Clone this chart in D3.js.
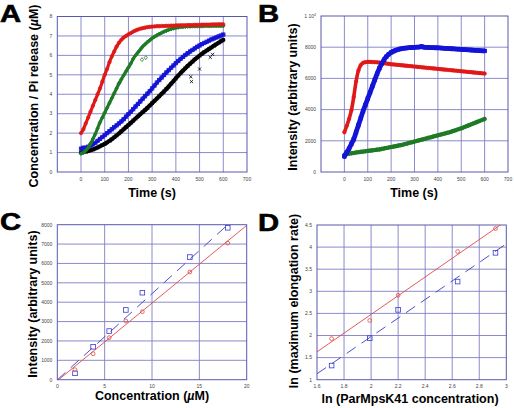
<!DOCTYPE html>
<html><head><meta charset="utf-8">
<script src="https://cdn.jsdelivr.net/npm/d3@7"></script>
<style>body{margin:0;background:#fff}svg{display:block}</style>
</head><body>
<svg id="chart" width="514" height="408"></svg>
<script>
// ---------- DATA ----------
const timeS = [0,10,20,30,40,50,60,70,80,90,100,110,120,130,140,150,160,170,180,190,200,210,220,230,240,250,260,270,280,290,300,310,320,330,340,350,360,370,380,390,400,410,420,430,440,450,460,470,480,490,500,510,520,530,540,550,560,570,580,590,600];

// Panel A: concentration / Pi release (uM)
const aRed   = [2.0,2.2,2.5,2.8,3.1,3.4,3.7,4.0,4.3,4.65,5.0,5.3,5.65,5.95,6.2,6.45,6.65,6.8,6.92,7.0,7.08,7.15,7.22,7.28,7.33,7.37,7.4,7.43,7.45,7.47,7.48,7.49,7.5,7.5,7.51,7.51,7.52,7.52,7.53,7.53,7.54,7.54,7.55,7.55,7.55,7.56,7.56,7.56,7.57,7.57,7.57,7.58,7.58,7.58,7.58,7.59,7.59,7.59,7.6,7.6,7.6];
const aGreen = [0.95,1.0,1.1,1.25,1.45,1.7,1.95,2.25,2.55,2.8,3.05,3.3,3.55,3.8,4.05,4.3,4.55,4.77,4.98,5.18,5.38,5.58,5.82,6.0,6.15,6.3,6.45,6.57,6.68,6.78,6.88,6.96,7.03,7.1,7.16,7.22,7.27,7.32,7.36,7.39,7.42,7.44,7.46,7.47,7.48,7.49,7.49,7.5,7.5,7.5,7.5,7.5,7.51,7.51,7.51,7.51,7.52,7.52,7.52,7.52,7.52];
const aBlue  = [1.2,1.25,1.25,1.3,1.35,1.42,1.5,1.6,1.7,1.8,1.9,2.0,2.1,2.2,2.3,2.4,2.5,2.6,2.72,2.85,2.98,3.1,3.23,3.37,3.5,3.63,3.77,3.9,4.03,4.16,4.3,4.45,4.6,4.73,4.86,4.99,5.12,5.24,5.36,5.48,5.6,5.71,5.82,5.92,6.02,6.11,6.2,6.28,6.36,6.44,6.51,6.58,6.64,6.7,6.76,6.82,6.87,6.92,6.97,7.02,7.07];
const aBlack = [1.0,1.02,1.05,1.08,1.12,1.16,1.21,1.26,1.32,1.38,1.45,1.52,1.6,1.69,1.78,1.88,1.98,2.09,2.2,2.31,2.42,2.53,2.64,2.75,2.86,2.97,3.08,3.19,3.3,3.42,3.54,3.66,3.78,3.9,4.02,4.14,4.27,4.4,4.54,4.68,4.82,4.96,5.09,5.22,5.34,5.46,5.57,5.68,5.79,5.89,5.99,6.08,6.17,6.25,6.33,6.41,6.49,6.57,6.65,6.73,6.8];
const aGreenOutT = [257,273,163];
const aGreenOutV = [5.78,5.88,4.6];
const aBlackOutT = [463,466,545,555,500];
const aBlackOutV = [4.9,4.65,5.9,6.05,5.3];

// Panel B: intensity (arbitrary units)
const bRed   = [2550,2950,3400,3950,4800,5800,6500,6850,7000,7040,7060,7060,7050,7040,7030,7010,6990,6970,6950,6930,6910,6895,6880,6865,6850,6835,6820,6805,6790,6775,6760,6745,6730,6715,6700,6685,6670,6655,6640,6625,6610,6595,6580,6565,6550,6535,6520,6505,6490,6475,6460,6445,6430,6415,6400,6385,6370,6355,6340,6325,6310];
const bBlue  = [1000,1250,1500,1800,2100,2550,3000,3450,3900,4300,4700,5100,5500,5900,6300,6650,6950,7200,7400,7550,7660,7740,7800,7850,7890,7920,7940,7960,7970,7980,7990,8000,8010,8050,8000,7990,7980,7975,7970,7965,7960,7950,7940,7930,7920,7910,7900,7890,7880,7870,7860,7850,7840,7830,7820,7810,7800,7790,7780,7770,7760];
const bGreen = [1100,1150,1180,1200,1220,1250,1270,1290,1310,1330,1350,1370,1390,1410,1430,1450,1480,1510,1540,1570,1600,1630,1660,1690,1720,1750,1790,1830,1870,1910,1950,1990,2030,2070,2110,2150,2190,2230,2270,2310,2350,2390,2430,2470,2510,2550,2600,2650,2700,2750,2800,2860,2920,2980,3040,3100,3160,3220,3280,3340,3400];

// Panel C: intensity vs concentration
const cConc  = [1.87,3.78,5.48,7.24,8.98,14.0,18.0];
const cBlue  = [330,1700,2510,3600,4490,6330,7840];
const cRed   = [516,1340,2170,3030,3510,5560,7050];
const cBlueFit = [445,-10];   // slope, intercept
const cRedFit  = [401,-56];

// Panel D: ln rate vs ln concentration
const dLnConc = [1.708,1.99,2.20,2.64,2.92];
const dRed    = [1.93,2.34,2.91,3.90,4.42];
const dBlue   = [1.32,1.94,2.58,3.22,3.87];
const dRedFit  = [2.117,-1.757];
const dBlueFit = [2.10,-2.226];

// Tick labels
const aXTicks = [0,100,200,300,400,500,600,700];
const aYTicks = [0,1,2,3,4,5,6,7,8];
const bXTicks = [0,100,200,300,400,500,600,700];
const bYTicks = [0,2000,4000,6000,8000];
const cXTicks = [0,5,10,15,20];
const cYTicks = [0,1000,2000,3000,4000,5000,6000,7000,8000];
const dXTicks = [1.6,1.8,2,2.2,2.4,2.6,2.8,3];
const dYTicks = [1,1.5,2,2.5,3,3.5,4,4.5];

// ---------- DRAWING ----------
const svg = d3.select("#chart");
const RED = "#e01818", GREEN = "#1e7a24", BLUE = "#1414d8", BLACK = "#000";
const GRID = "#7e7ec6", FRAME = "#5858ae";
const FONT = "'Liberation Sans', Arial, Helvetica, sans-serif";
let clipId = 0;

function panel(o) {
  const x = d3.scaleLinear().domain(o.xd).range([o.l, o.r]);
  const y = d3.scaleLinear().domain(o.yd).range([o.b, o.t]);
  const g = svg.append("g");
  g.selectAll(".vg").data(o.xg).join("line")
    .attr("x1", d => x(d)).attr("x2", d => x(d)).attr("y1", o.t).attr("y2", o.b)
    .attr("stroke", GRID).attr("stroke-width", 0.9);
  g.selectAll(".hg").data(o.yg).join("line")
    .attr("y1", d => y(d)).attr("y2", d => y(d)).attr("x1", o.l).attr("x2", o.r)
    .attr("stroke", GRID).attr("stroke-width", 0.9);
  g.append("rect").attr("x", o.l).attr("y", o.t).attr("width", o.r - o.l).attr("height", o.b - o.t)
    .attr("fill", "none").attr("stroke", FRAME).attr("stroke-width", 1);
  g.selectAll(".xt").data(o.xt).join("text")
    .attr("x", d => x(d)).attr("y", o.b + 8.5).attr("text-anchor", "middle")
    .attr("font-family", FONT).attr("font-size", 5).attr("fill", "#444")
    .text(o.xf || (d => d));
  g.selectAll(".yt").data(o.yt).join("text")
    .attr("x", o.l - 5).attr("y", d => y(d) + 1.8).attr("text-anchor", "end")
    .attr("font-family", FONT).attr("font-size", 5).attr("fill", "#444")
    .text(o.yf || (d => d));
  const id = "clip" + (clipId++);
  svg.append("clipPath").attr("id", id).append("rect")
    .attr("x", o.l).attr("y", o.t).attr("width", o.r - o.l).attr("height", o.b - o.t);
  const plot = svg.append("g").attr("clip-path", `url(#${id})`);
  return {x, y, g, plot};
}

function band(p, xs, ys, color, width, shape) {
  const pts = xs.map((t, i) => [t, ys[i]]);
  p.plot.append("path").datum(pts)
    .attr("d", d3.line().x(d => p.x(d[0])).y(d => p.y(d[1])).curve(d3.curveMonotoneX))
    .attr("fill", "none").attr("stroke", color).attr("stroke-width", width)
    .attr("stroke-linejoin", "round").attr("stroke-linecap", "round");
  markers(p, xs, ys, color, shape, 1.7);
}

function markers(p, xs, ys, color, shape, r) {
  const pts = xs.map((t, i) => [t, ys[i]]);
  const sel = p.plot.append("g");
  pts.forEach(d => {
    const cx = p.x(d[0]), cy = p.y(d[1]);
    if (shape === "circle") {
      sel.append("circle").attr("cx", cx).attr("cy", cy).attr("r", r)
        .attr("fill", "none").attr("stroke", color).attr("stroke-width", 0.8);
    } else if (shape === "square") {
      sel.append("rect").attr("x", cx - r).attr("y", cy - r).attr("width", 2 * r).attr("height", 2 * r)
        .attr("fill", "none").attr("stroke", color).attr("stroke-width", 0.8);
    } else if (shape === "diamond") {
      sel.append("path").attr("d", `M${cx},${cy - r * 1.2}L${cx + r},${cy}L${cx},${cy + r * 1.2}L${cx - r},${cy}Z`)
        .attr("fill", "none").attr("stroke", color).attr("stroke-width", 0.8);
    } else if (shape === "cross") {
      sel.append("path").attr("d", `M${cx - r},${cy - r}L${cx + r},${cy + r}M${cx - r},${cy + r}L${cx + r},${cy - r}`)
        .attr("fill", "none").attr("stroke", color).attr("stroke-width", 0.8);
    }
  });
}

function fitLine(p, fit, xd, color, dash) {
  const pts = xd.map(v => [v, fit[0] * v + fit[1]]);
  p.plot.append("path").datum(pts)
    .attr("d", d3.line().x(d => p.x(d[0])).y(d => p.y(d[1])))
    .attr("fill", "none").attr("stroke", color).attr("stroke-width", 0.9)
    .attr("stroke-dasharray", dash || null);
}

function label(txt, x, y, size, rot, italicMu) {
  const t = svg.append("text")
    .attr("font-family", FONT).attr("font-weight", "bold").attr("font-size", size)
    .attr("text-anchor", "middle").attr("fill", "#000")
    .attr("transform", `translate(${x},${y})` + (rot ? " rotate(-90)" : ""));
  if (italicMu) {
    const parts = txt.split("µ");
    t.append("tspan").text(parts[0]);
    t.append("tspan").attr("font-style", "italic").text("µ");
    t.append("tspan").text(parts[1]);
  } else t.text(txt);
}

function letter(txt, x, y) {
  svg.append("text").attr("transform", `translate(${x},${y}) scale(1.22,1)`)
    .attr("font-family", FONT).attr("font-weight", "bold").attr("font-size", 24)
    .attr("stroke", "#000").attr("stroke-width", 0.6).text(txt);
}

// ----- Panel A -----
const A = panel({l: 57.3, r: 247, t: 16.5, b: 172, xd: [-100, 700], yd: [0, 8],
  xg: [0,100,200,300,400,500,600], yg: [1,2,3,4,5,6,7], xt: aXTicks, yt: aYTicks});
band(A, timeS, aBlack, BLACK, 4.2, "cross");
band(A, timeS, aBlue, BLUE, 3.6, "square");
band(A, timeS, aGreen, GREEN, 3.2, "diamond");
band(A, timeS, aRed, RED, 3.2, "circle");
markers(A, aGreenOutT, aGreenOutV, GREEN, "diamond", 1.6);
markers(A, aBlackOutT, aBlackOutV, BLACK, "cross", 1.6);
letter("A", 0, 22);
label("Concentration / Pi release (µM)", 37.5, 96, 12.5, true, true);
label("Time (s)", 152, 197, 12.5, false);

// ----- Panel B -----
const B = panel({l: 321, r: 508, t: 16, b: 172, xd: [-100, 700], yd: [0, 10000],
  xg: [0,100,200,300,400,500,600], yg: [2000,4000,6000,8000], xt: bXTicks, yt: bYTicks});
B.g.append("text").attr("x", B.x(-100) - 5).attr("y", B.y(10000) + 1.8).attr("text-anchor", "end")
  .attr("font-family", FONT).attr("font-size", 5).attr("fill", "#444")
  .text("1 10").append("tspan").attr("dy", -2).attr("font-size", 3.5).text("4");
band(B, timeS, bGreen, GREEN, 4.2, "diamond");
band(B, timeS, bRed, RED, 3.6, "circle");
band(B, timeS, bBlue, BLUE, 4.8, "square");
letter("B", 258, 22);
label("Intensity (arbitrary units)", 297, 97, 12.5, true);
label("Time (s)", 414, 197, 12.5, false);

// ----- Panel C -----
const C = panel({l: 57.3, r: 246.7, t: 224.7, b: 379.7, xd: [0, 20], yd: [0, 8000],
  xg: [5,10,15], yg: [1000,2000,3000,4000,5000,6000,7000], xt: cXTicks, yt: cYTicks});
fitLine(C, cRedFit, [0, 20], "#e04848");
fitLine(C, cBlueFit, [0, 20], "#3a3ac8", "11,7");
markers(C, cConc, cBlue, "#3a3ad0", "square", 2.3);
markers(C, cConc, cRed, "#e04848", "circle", 1.9);
letter("C", 0, 230);
label("Intensity (arbitrary units)", 36.5, 304, 12.5, true);
label("Concentration (µM)", 152, 400, 12.5, false, true);

// ----- Panel D -----
const D = panel({l: 317, r: 506.3, t: 225, b: 379.7, xd: [1.6, 3], yd: [1, 4.5],
  xg: [1.8,2,2.2,2.4,2.6,2.8], yg: [1.5,2,2.5,3,3.5,4], xt: dXTicks, yt: dYTicks});
fitLine(D, dRedFit, [1.6, 3], "#e04848");
fitLine(D, dBlueFit, [1.6, 3], "#3a3ac8", "11,7");
markers(D, dLnConc, dRed, "#e04848", "circle", 1.9);
markers(D, dLnConc, dBlue, "#3a3ad0", "square", 2.3);
letter("D", 258, 231);
label("ln (maximum elongation rate)", 298, 301, 12.5, true);
label("ln (ParMpsK41 concentration)", 410, 403, 12.5, false);
</script>
</body></html>
